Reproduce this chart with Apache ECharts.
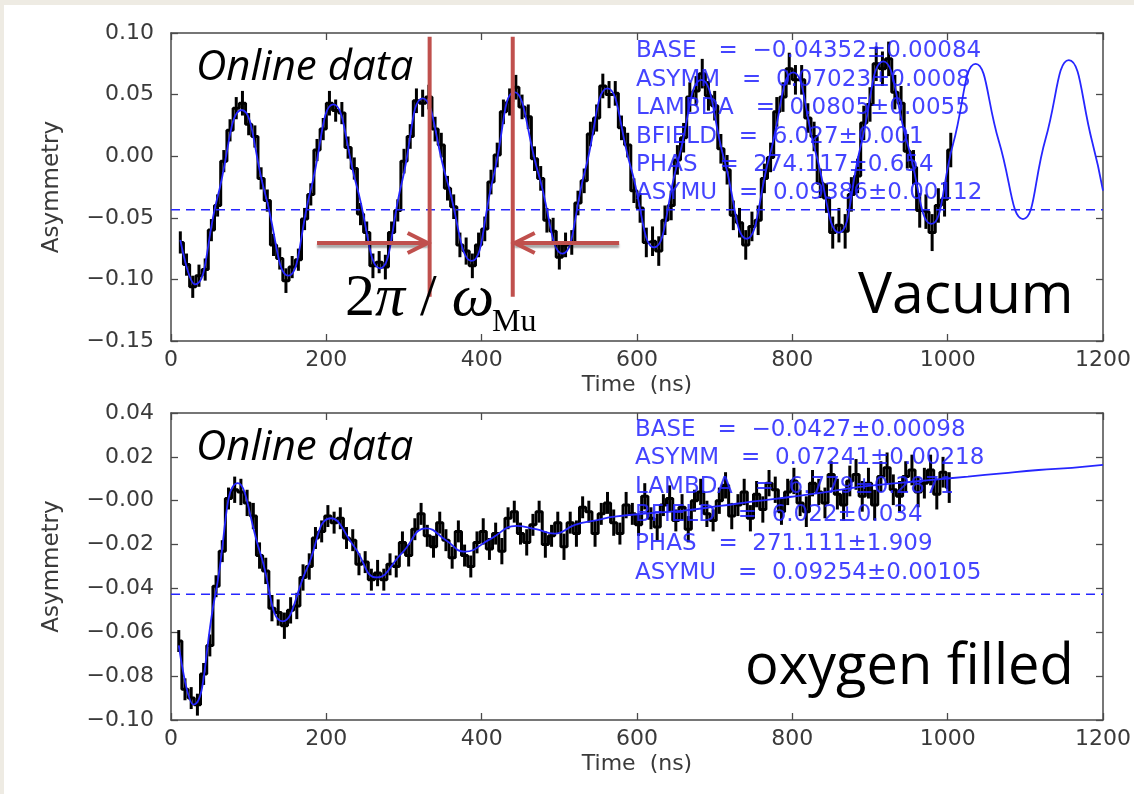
<!DOCTYPE html>
<html>
<head>
<meta charset="utf-8">
<script src="https://cdn.jsdelivr.net/npm/echarts@6/dist/echarts.min.js"></script>
<style>
html,body{margin:0;padding:0;background:#eeebe3;}
#wrap{position:absolute;left:4px;top:5px;width:1130px;height:789px;background:#fff;}
#chart{position:absolute;left:-4px;top:-5px;width:1134px;height:794px;}
</style>
</head>
<body>
<div id="wrap"><div id="chart"></div></div>
<script>
// ---------- data ----------
const xTicks = [0, 200, 400, 600, 800, 1000, 1200];
const topYLabels = ['\u22120.15', '\u22120.10', '\u22120.05', '0.00', '0.05', '0.10'];
const botYLabels = ['\u22120.10', '\u22120.08', '\u22120.06', '\u22120.04', '\u22120.02', '\u22120.00', '0.02', '0.04'];

// Vacuum: measured points [time, asymmetry, error]
const topData = [
[12,-0.070,0.009],[20,-0.088,0.009],[28,-0.106,0.009],[36,-0.097,0.009],[44,-0.092,0.009],[52,-0.060,0.009],[60,-0.040,0.009],[68,-0.004,0.009],[76,0.021,0.009],[84,0.039,0.009],
[92,0.043,0.010],[100,0.026,0.009],[108,0.016,0.009],[116,-0.018,0.009],[124,-0.036,0.009],[132,-0.072,0.009],[140,-0.083,0.009],[148,-0.101,0.010],[156,-0.090,0.009],[164,-0.084,0.009],
[172,-0.051,0.009],[180,-0.031,0.009],[188,0.005,0.009],[196,0.022,0.009],[204,0.043,0.010],[212,0.037,0.009],[220,0.035,0.009],[228,0.007,0.009],[236,-0.010,0.009],[244,-0.047,0.009],
[252,-0.062,0.009],[260,-0.089,0.010],[268,-0.086,0.009],[276,-0.090,0.010],[284,-0.062,0.009],[292,-0.044,0.009],[300,-0.004,0.010],[308,0.016,0.010],[316,0.045,0.010],[324,0.043,0.011],
[332,0.048,0.010],[340,0.022,0.010],[348,0.009,0.010],[356,-0.026,0.010],[364,-0.041,0.010],[372,-0.072,0.010],[380,-0.077,0.011],[388,-0.089,0.010],[396,-0.072,0.010],[404,-0.059,0.010],
[412,-0.021,0.010],[420,0.001,0.010],[428,0.036,0.010],[436,0.044,0.011],[444,0.056,0.010],[452,0.040,0.010],[460,0.032,0.010],[468,-0.002,0.010],[476,-0.018,0.010],[484,-0.052,0.010],
[492,-0.061,0.011],[500,-0.082,0.010],[508,-0.072,0.010],[516,-0.070,0.010],[524,-0.038,0.010],[532,-0.020,0.010],[540,0.018,0.010],[548,0.031,0.011],[556,0.057,0.010],[564,0.050,0.011],
[572,0.051,0.010],[580,0.023,0.010],[588,0.009,0.010],[596,-0.028,0.010],[604,-0.042,0.012],[612,-0.070,0.012],[620,-0.069,0.012],[628,-0.077,0.012],[636,-0.052,0.012],[644,-0.040,0.012],
[652,-0.003,0.012],[660,0.015,0.012],[668,0.048,0.012],[676,0.053,0.012],[684,0.067,0.012],[692,0.049,0.012],[700,0.041,0.012],[708,0.006,0.012],[716,-0.011,0.012],[724,-0.048,0.012],
[732,-0.054,0.012],[740,-0.072,0.012],[748,-0.057,0.012],[756,-0.052,0.012],[764,-0.018,0.012],[772,-0.001,0.012],[780,0.036,0.012],[788,0.048,0.012],[796,0.071,0.013],[804,0.062,0.012],
[812,0.062,0.012],[820,0.031,0.012],[828,0.016,0.012],[836,-0.022,0.012],[844,-0.034,0.012],[852,-0.062,0.013],[860,-0.056,0.014],[868,-0.061,0.014],[876,-0.031,0.014],[884,-0.016,0.014],
[892,0.027,0.014],[900,0.042,0.014],[908,0.075,0.014],[916,0.071,0.014],[924,0.079,0.014],[932,0.052,0.014],[940,0.043,0.014],[948,0.004,0.014],[956,-0.009,0.014],[964,-0.044,0.014],
[972,-0.045,0.014],[980,-0.062,0.015],[988,-0.040,0.014],[996,-0.035,0.014],[1004,0.005,0.014]
];
// Vacuum: fit curve points
const topFit = [
[12,-0.068],[31,-0.104],[60,-0.033],[91,0.0375],[121,-0.030],[151,-0.097],[180,-0.027],[209,0.042],[239,-0.024],[269,-0.091],
[297,-0.022],[324,0.047],[355,-0.019],[387,-0.085],[415,-0.017],[442,0.052],[473,-0.014],[504,-0.079],[533,-0.012],[562,0.055],
[592,-0.009],[622,-0.074],[652,-0.006],[683,0.062],[712,-0.002],[741,-0.067],[771,0.001],[801,0.068],[830,0.003],[860,-0.062],
[888,0.008],[917,0.077],[948,0.011],[979,-0.055],[1007,0.010],[1036,0.075],[1066,0.012],[1097,-0.051],[1126,0.014],[1156,0.078],
[1186,0.012],[1200,-0.028]
];
const topBase = -0.0435;

// Oxygen filled: measured points [time, asymmetry, error]
const botData = [
[10,-0.064,0.005],[18,-0.086,0.005],[26,-0.090,0.005],[34,-0.093,0.005],[42,-0.079,0.005],[50,-0.066,0.005],[58,-0.039,0.005],[66,-0.023,0.005],[74,0.001,0.005],[82,0.005,0.006],
[90,0.004,0.006],[98,-0.001,0.006],[106,-0.007,0.006],[114,-0.025,0.006],[122,-0.032,0.006],[130,-0.049,0.006],[138,-0.051,0.006],[146,-0.057,0.006],[154,-0.050,0.006],[162,-0.048,0.006],
[170,-0.035,0.006],[178,-0.030,0.006],[186,-0.017,0.005],[194,-0.014,0.005],[202,-0.007,0.005],[210,-0.010,0.005],[218,-0.008,0.005],[226,-0.017,0.005],[234,-0.018,0.005],[242,-0.029,0.005],
[250,-0.028,0.005],[258,-0.036,0.005],[266,-0.033,0.006],[274,-0.036,0.005],[282,-0.029,0.005],[290,-0.030,0.005],[298,-0.019,0.005],[306,-0.025,0.005],[314,-0.013,0.005],[322,-0.006,0.005],
[330,-0.016,0.005],[338,-0.021,0.005],[346,-0.010,0.005],[354,-0.018,0.005],[362,-0.026,0.005],[370,-0.014,0.005],[378,-0.025,0.005],[386,-0.030,0.005],[394,-0.019,0.005],[402,-0.014,0.006],
[410,-0.022,0.005],[418,-0.015,0.005],[426,-0.023,0.006],[434,-0.008,0.005],[442,-0.005,0.005],[450,-0.015,0.005],[458,-0.019,0.006],[466,-0.011,0.005],[474,-0.005,0.005],[482,-0.020,0.006],
[490,-0.016,0.005],[498,-0.010,0.005],[506,-0.021,0.006],[514,-0.010,0.005],[522,-0.015,0.006],[530,-0.003,0.005],[538,-0.005,0.005],[546,-0.015,0.006],[554,-0.006,0.005],[562,-0.001,0.005],
[570,-0.010,0.006],[578,-0.015,0.005],[586,-0.002,0.006],[594,-0.006,0.005],[602,-0.011,0.005],[610,0.002,0.006],[618,-0.008,0.005],[626,-0.012,0.006],[634,-0.002,0.005],[642,0.001,0.006],
[650,-0.009,0.005],[658,-0.003,0.006],[666,-0.013,0.006],[674,0.000,0.005],[682,0.004,0.006],[690,-0.006,0.006],[698,-0.009,0.005],[706,0.000,0.006],[714,0.007,0.006],[722,-0.007,0.006],
[730,-0.002,0.005],[738,0.004,0.006],[746,-0.008,0.006],[754,0.003,0.006],[762,-0.004,0.006],[770,0.008,0.006],[778,0.005,0.006],[786,-0.005,0.006],[794,0.004,0.006],[802,0.009,0.006],
[810,-0.001,0.006],[818,-0.005,0.007],[826,0.008,0.006],[834,0.004,0.006],[842,-0.001,0.007],[850,0.012,0.006],[858,0.003,0.007],[866,-0.002,0.007],[874,0.009,0.007],[882,0.012,0.007],
[890,0.002,0.007],[898,0.008,0.007],[906,-0.002,0.007],[914,0.011,0.007],[922,0.015,0.007],[930,0.005,0.007],[938,0.002,0.007],[946,0.011,0.007],[954,0.014,0.007],[962,0.004,0.007],
[970,0.008,0.007],[978,0.014,0.007],[986,0.003,0.007],[994,0.013,0.007],[1002,0.006,0.007]
];
// Oxygen filled: fit curve points
const botFit = [
[10,-0.066],[29,-0.093],[57,-0.043],[86,0.008],[115,-0.024],[144,-0.055],[175,-0.031],[206,-0.008],[236,-0.021],[265,-0.035],
[297,-0.024],[329,-0.0126],[354,-0.018],[378,-0.0232],[411,-0.0175],[445,-0.0115],[470,-0.013],[494,-0.015],[520,-0.011],[549,-0.0088],
[571,-0.0073],[617,-0.0057],[660,-0.0045],[707,-0.0024],[750,-0.0003],[799,0.0018],[845,0.004],[890,0.0064],[935,0.008],[980,0.0095],
[1026,0.011],[1070,0.0125],[1117,0.014],[1160,0.015],[1200,0.0163]
];
const botBase = -0.0427;

// fit parameter texts
const topParams = ['BASE   =  \u22120.04352\u00b10.00084','ASYMM   =  0.07023\u00b10.0008','LAMBDA   =  0.0805\u00b10.0055','BFIELD   =  6.027\u00b10.001','PHAS   =  274.117\u00b10.654','ASYMU   =  0.09386\u00b10.00112'];
const botParams = ['BASE   =  \u22120.0427\u00b10.00098','ASYMM   =  0.07241\u00b10.00218','LAMBDA   =  6.779\u00b10.2871','BFIELD   =  6.022\u00b10.034','PHAS   =  271.111\u00b11.909','ASYMU   =  0.09254\u00b10.00105'];

// period annotation (time positions of the two red markers, and arrow extents)
const periodMarks = [333, 440];
const periodArrowFrom = [188, 577];
const periodArrowY = -0.0705;
const periodLineY = [0.097, -0.114];

// ---------- chart ----------
const chart = echarts.init(document.getElementById('chart'), null, {renderer: 'canvas'});
const AX = '#4a4a4a';
const LBL = '#3a3a3a';
const FONT = 'DejaVu Sans';
const BLUE = '#2626ff';

function xAxisBottom(gi) {
  return {
    type: 'value', gridIndex: gi, min: 0, max: 1200, interval: 200, position: 'bottom',
    name: 'Time  (ns)', nameLocation: 'middle', nameGap: 33,
    nameTextStyle: {fontFamily: FONT, fontSize: 22, color: LBL},
    axisLine: {show: true, onZero: false, lineStyle: {color: AX, width: 1.5}},
    axisTick: {show: true, inside: true, length: 7, lineStyle: {color: AX, width: 1.3}},
    axisLabel: {fontFamily: FONT, fontSize: 22, color: LBL, margin: 8,
      formatter: function (v) { return String(xTicks[Math.round(v / 200)]); }},
    splitLine: {show: false}
  };
}
function xAxisTop(gi) {
  return {
    type: 'value', gridIndex: gi, min: 0, max: 1200, interval: 200, position: 'top',
    axisLine: {show: true, onZero: false, lineStyle: {color: AX, width: 1.5}},
    axisTick: {show: true, inside: true, length: 7, lineStyle: {color: AX, width: 1.3}},
    axisLabel: {show: false}, splitLine: {show: false}
  };
}
function yAxisLeft(gi, min, max, interval, labels) {
  return {
    type: 'value', gridIndex: gi, min: min, max: max, interval: interval, position: 'left',
    name: 'Asymmetry', nameLocation: 'middle', nameGap: 107,
    nameTextStyle: {fontFamily: FONT, fontSize: 23, color: LBL},
    axisLine: {show: true, onZero: false, lineStyle: {color: AX, width: 1.5}},
    axisTick: {show: true, inside: true, length: 7, lineStyle: {color: AX, width: 1.3}},
    axisLabel: {fontFamily: FONT, fontSize: 22, color: LBL, margin: 17,
      formatter: function (v) { return labels[Math.round((v - min) / interval)]; }},
    splitLine: {show: false}
  };
}
function yAxisRight(gi, min, max, interval) {
  return {
    type: 'value', gridIndex: gi, min: min, max: max, interval: interval, position: 'right',
    axisLine: {show: true, onZero: false, lineStyle: {color: AX, width: 1.5}},
    axisTick: {show: true, inside: true, length: 7, lineStyle: {color: AX, width: 1.3}},
    axisLabel: {show: false}, splitLine: {show: false}
  };
}

function errorBars(xi, yi, data) {
  return {
    type: 'custom', xAxisIndex: xi, yAxisIndex: yi, data: data, clip: true, z: 2,
    renderItem: function (params, api) {
      const x = api.value(0), y = api.value(1), e = api.value(2);
      const p1 = api.coord([x, y + e]);
      const p2 = api.coord([x, y - e]);
      return {type: 'line', shape: {x1: p1[0], y1: p1[1], x2: p2[0], y2: p2[1]},
        style: {stroke: '#000', lineWidth: 3}};
    }
  };
}
function stepLine(xi, yi, data) {
  return {type: 'line', xAxisIndex: xi, yAxisIndex: yi, step: 'middle', showSymbol: false,
    data: data.map(d => [d[0], d[1]]), lineStyle: {color: '#000', width: 3}, z: 2, silent: true};
}
function fitLine(xi, yi, data) {
  return {type: 'line', xAxisIndex: xi, yAxisIndex: yi, smooth: 0.5, showSymbol: false,
    data: data, lineStyle: {color: BLUE, width: 1.8}, z: 4, silent: true};
}
function baseLine(xi, yi, v) {
  return {type: 'line', xAxisIndex: xi, yAxisIndex: yi, showSymbol: false,
    data: [[0, v], [1200, v]], lineStyle: {color: BLUE, width: 1.5, type: [9, 6]}, z: 3, silent: true};
}

chart.setOption({
  animation: false,
  backgroundColor: 'transparent',
  grid: [
    {left: 171, top: 33, width: 933, height: 308},
    {left: 171, top: 413, width: 933, height: 307}
  ],
  xAxis: [xAxisBottom(0), xAxisTop(0), xAxisBottom(1), xAxisTop(1)],
  yAxis: [
    yAxisLeft(0, -0.15, 0.10, 0.05, topYLabels), yAxisRight(0, -0.15, 0.10, 0.05),
    yAxisLeft(1, -0.10, 0.04, 0.02, botYLabels), yAxisRight(1, -0.10, 0.04, 0.02)
  ],
  series: [
    baseLine(0, 0, topBase),
    stepLine(0, 0, topData),
    errorBars(0, 0, topData),
    fitLine(0, 0, topFit),
    baseLine(2, 2, botBase),
    stepLine(2, 2, botData),
    errorBars(2, 2, botData),
    fitLine(2, 2, botFit)
  ]
});

// ---------- annotations ----------
const g = [];
const paramStyle = {fill: 'rgba(35,35,255,0.85)', fontFamily: FONT, fontSize: 23};
const topRows = [51, 80, 108, 137, 165, 193];
const botRows = [430, 458, 487, 515, 544, 573];
topParams.forEach((t, i) => g.push({type: 'text', x: 636, y: topRows[i], z: 10,
  style: Object.assign({text: t, verticalAlign: 'middle'}, paramStyle)}));
botParams.forEach((t, i) => g.push({type: 'text', x: 635, y: botRows[i], z: 10,
  style: Object.assign({text: t, verticalAlign: 'middle'}, paramStyle)}));

const bigText = {fill: '#000', fontFamily: 'Open Sans'};
g.push({type: 'text', x: 196, y: 68, z: 10, style: Object.assign({text: 'Online data', fontSize: 42, fontStyle: 'italic', verticalAlign: 'middle'}, bigText)});
g.push({type: 'text', x: 196, y: 448, z: 10, style: Object.assign({text: 'Online data', fontSize: 42, fontStyle: 'italic', verticalAlign: 'middle'}, bigText)});
g.push({type: 'text', x: 858, y: 297, z: 10, style: Object.assign({text: 'Vacuum', fontSize: 57, verticalAlign: 'middle'}, bigText)});
g.push({type: 'text', x: 745, y: 668, z: 10, style: Object.assign({text: 'oxygen filled', fontSize: 56, verticalAlign: 'middle'}, bigText)});

// red period markers in data coordinates
const RED = '#c0504d';
const px = (x, y) => chart.convertToPixel({gridIndex: 0}, [x, y]);
periodMarks.forEach(m => {
  const a = px(m, periodLineY[0]), b = px(m, periodLineY[1]);
  g.push({type: 'line', z: 12, shape: {x1: a[0], y1: a[1], x2: b[0], y2: b[1]}, style: {stroke: RED, lineWidth: 4}});
});
[0, 1].forEach(i => {
  const from = px(periodArrowFrom[i], periodArrowY);
  const to = px(periodMarks[i], periodArrowY);
  const dir = to[0] > from[0] ? 1 : -1;
  const shadow = {shadowColor: 'rgba(0,0,0,0.35)', shadowBlur: 2, shadowOffsetY: 3};
  g.push({type: 'line', z: 12, shape: {x1: from[0], y1: from[1], x2: to[0] - dir * 2, y2: to[1]},
    style: Object.assign({stroke: RED, lineWidth: 4}, shadow)});
  g.push({type: 'polyline', z: 12, shape: {points: [[to[0] - dir * 22, to[1] - 10], [to[0] - dir * 2, to[1]], [to[0] - dir * 22, to[1] + 10]]},
    style: {stroke: RED, lineWidth: 4, fill: null, lineJoin: 'miter'}});
});
// 2π/ω_Mu label
g.push({type: 'text', x: 345, y: 299, z: 13, style: {
  text: '{n|2}{i|\u03c0}{n| / }{i|\u03c9}', verticalAlign: 'middle', fill: '#000',
  rich: {
    n: {fontFamily: 'Liberation Serif', fontSize: 60, fill: '#000'},
    i: {fontFamily: 'Liberation Serif', fontSize: 60, fontStyle: 'italic', fill: '#000'}
  }}});
g.push({type: 'text', x: 492, y: 323, z: 13, style: {text: 'Mu', fontFamily: 'Liberation Serif', fontSize: 32, fill: '#000', verticalAlign: 'middle'}});

chart.setOption({graphic: g});
</script>
</body>
</html>
